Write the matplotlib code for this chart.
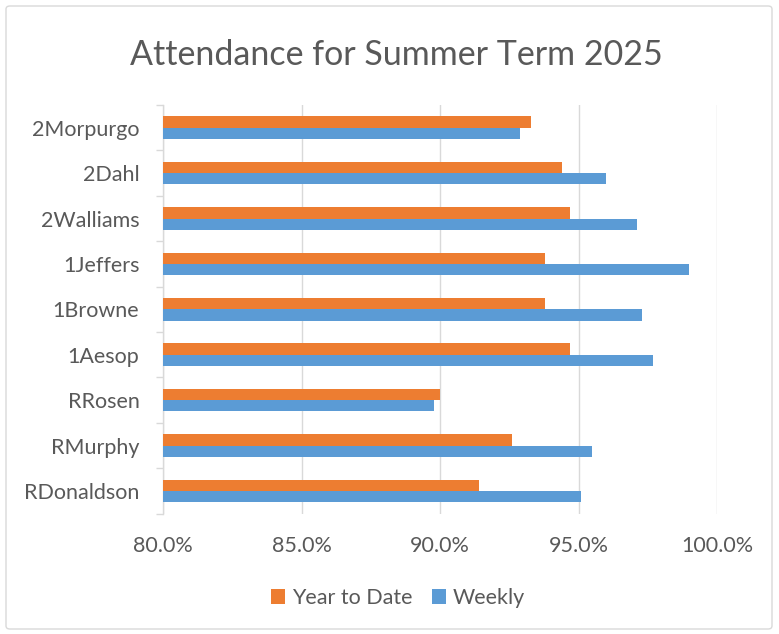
import matplotlib
matplotlib.use("Agg")
import matplotlib.pyplot as plt
import numpy as np
from matplotlib.patches import FancyBboxPatch, Patch
from matplotlib.ticker import FuncFormatter

classes = ["2Morpurgo", "2Dahl", "2Walliams", "1Jeffers", "1Browne",
           "1Aesop", "RRosen", "RMurphy", "RDonaldson"]
year_to_date = [93.3, 94.4, 94.7, 93.8, 93.8, 94.7, 90.0, 92.6, 91.4]
weekly = [92.9, 96.0, 97.1, 99.0, 97.3, 97.7, 89.8, 95.5, 95.1]
x_ticks = [80, 85, 90, 95, 100]

plt.rcParams['font.family'] = ['Lato', 'DejaVu Sans']

W, H = 779, 634
fig = plt.figure(figsize=(W / 100, H / 100), dpi=100)

# chart border
border = FancyBboxPatch((6 / W, 5 / H), (W - 13) / W, (H - 11) / H,
                        boxstyle="round,pad=0,rounding_size=0.005",
                        transform=fig.transFigure, facecolor="none",
                        edgecolor="#D9D9D9", linewidth=1.0, zorder=-5)
fig.patches.append(border)

ax = fig.add_axes([163 / W, (H - 513.6) / H, (717 - 163) / W, (513.6 - 105) / H])
ax.set_facecolor("none")

n = len(classes)
y = np.arange(n)[::-1]
bh = 0.25
orange = "#ED7D31"
blue = "#5B9BD5"
ax.barh(y + bh / 2, year_to_date, height=bh, left=0, color=orange, zorder=3,
        label="Year to Date")
ax.barh(y - bh / 2, weekly, height=bh, left=0, color=blue, zorder=3,
        label="Weekly")

ax.set_xlim(x_ticks[0], x_ticks[-1])
ax.set_ylim(-0.5, n - 0.5)
ax.set_xticks(x_ticks)
ax.xaxis.set_major_formatter(FuncFormatter(lambda v, p: f"{v:.1f}%"))
ax.set_yticks(y)
ax.set_yticklabels(classes)
ax.set_yticks(np.arange(-0.5, n, 1.0), minor=True)

ax.grid(axis="x", color="#D9D9D9", linewidth=1.0, zorder=0)
for s in ["top", "right", "bottom"]:
    ax.spines[s].set_visible(False)
ax.spines["left"].set_color("#D9D9D9")
ax.spines["left"].set_linewidth(1.0)

ax.tick_params(axis="x", length=0, pad=16, labelsize=15.5, labelcolor="#595959")
ax.tick_params(axis="y", which="major", length=0, pad=17, labelsize=15.5,
               labelcolor="#595959")
ax.tick_params(axis="y", which="minor", length=5, color="#D9D9D9", width=1.0)

fig.text(396 / W, 1 - 55 / H, "Attendance for Summer Term 2025",
         ha="center", va="center", fontsize=24.5, color="#595959")

handles = [Patch(facecolor=orange, label="Year to Date"),
           Patch(facecolor=blue, label="Weekly")]
fig.legend(handles=handles, loc="center", bbox_to_anchor=(398 / W, 1 - 598 / H),
           ncol=2, frameon=False, fontsize=15.5, labelcolor="#595959",
           handlelength=0.65, handleheight=0.65, handletextpad=0.3,
           columnspacing=0.9)

fig.savefig("out.png", dpi=100)
